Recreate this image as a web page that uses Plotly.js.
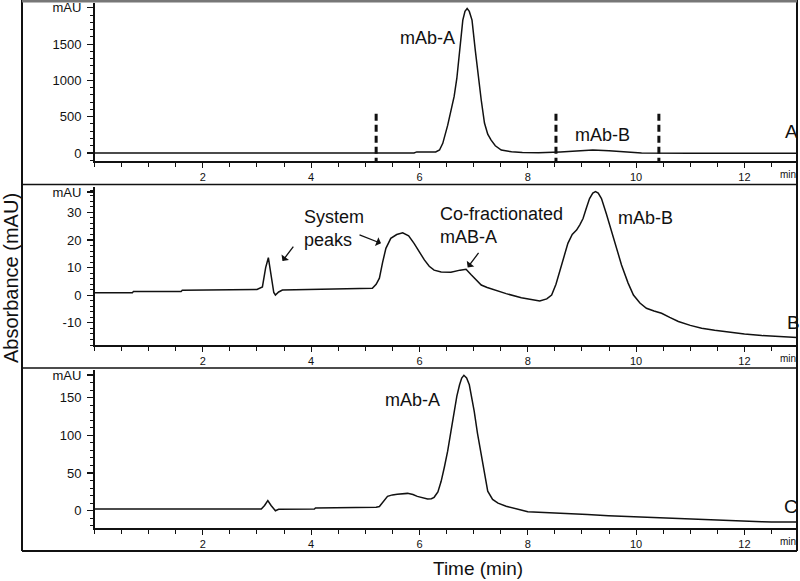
<!DOCTYPE html>
<html>
<head>
<meta charset="utf-8">
<script src="https://cdn.plot.ly/plotly-3.0.1.min.js"></script>
<style>body{margin:0;background:#fff}</style>
</head>
<body>
<div id="chart" style="width:800px;height:581px"></div>
<script>
// panel A - whole sample
let timeA = [0, 5.9, 5.95, 6.3, 6.37, 6.43, 6.52, 6.58, 6.64, 6.69, 6.74, 6.8, 6.84, 6.88, 6.92, 6.97, 7.03, 7.09, 7.14, 7.2, 7.26, 7.32, 7.4, 7.51, 7.7, 7.9, 8.2, 8.6, 8.9, 9.2, 9.5, 9.8, 10.1, 11, 12.97];
let absA = [0, 0, 15, 15, 41, 133, 380, 560, 780, 1030, 1418, 1830, 1950, 1990, 1950, 1830, 1418, 1000, 730, 413, 260, 180, 100, 40, 18, 8, 5, 15, 30, 40, 30, 12, 0, -2, -3];

// panel B - fraction 1 (5.2 - 8.5 min)
let timeB = [0, 0.7, 0.72, 1.6, 1.62, 3.0, 3.1, 3.16, 3.21, 3.26, 3.31, 3.34, 3.4, 3.47, 4.0, 5.0, 5.13, 5.2, 5.26, 5.32, 5.38, 5.47, 5.58, 5.69, 5.8, 5.9, 6.0, 6.09, 6.18, 6.27, 6.4, 6.58, 6.75, 6.86, 6.95, 7.05, 7.14, 7.25, 7.39, 7.6, 7.88, 8.1, 8.22, 8.35, 8.44, 8.52, 8.59, 8.66, 8.74, 8.82, 8.9, 8.96, 9.02, 9.08, 9.14, 9.2, 9.25, 9.3, 9.36, 9.45, 9.55, 9.64, 9.73, 9.85, 9.95, 10.07, 10.19, 10.33, 10.47, 10.62, 10.78, 11.0, 11.21, 11.45, 11.71, 12.0, 12.32, 12.6, 12.97];
let absB = [0.9, 0.9, 1.4, 1.4, 1.8, 2.1, 3, 10, 13.6, 8, 1, 0.1, 1.2, 1.9, 2.1, 2.3, 2.5, 4, 6.2, 12, 17, 20.6, 22, 22.6, 21.5, 18.8, 15.5, 12.8, 10.5, 9.1, 8.4, 8.3, 9.1, 9.4, 7.5, 5.3, 3.7, 2.8, 1.9, 0.6, -0.9, -1.8, -2.1, -1.3, 0.1, 4, 8.5, 13, 18.8, 22, 23.6, 25.5, 27.8, 31.5, 35, 37, 37.5, 37, 35, 29.5, 23, 17, 11, 4.5, 0.1, -2.8, -4.7, -5.7, -6.5, -8, -9.5, -10.9, -11.9, -12.7, -13.4, -14, -14.6, -15, -15.3];

// panel C - fraction 2
let timeC = [0, 3.08, 3.14, 3.2, 3.26, 3.34, 3.4, 4.06, 4.08, 4.65, 4.67, 5.2, 5.26, 5.33, 5.41, 5.5, 5.59, 5.78, 5.88, 5.96, 6.05, 6.15, 6.22, 6.27, 6.34, 6.4, 6.46, 6.52, 6.58, 6.64, 6.69, 6.74, 6.78, 6.82, 6.87, 6.92, 6.96, 7.01, 7.07, 7.14, 7.2, 7.26, 7.35, 7.45, 7.6, 7.8, 8.0, 8.4, 8.74, 9.1, 9.49, 9.9, 10.29, 10.65, 11.03, 11.46, 11.9, 12.32, 12.5, 12.97];
let absC = [2.3, 2.3, 7, 13.3, 7, 0, 2, 2.2, 3.6, 3.8, 4.5, 4.6, 5.5, 12, 19, 21, 22, 23, 21.5, 19, 17, 15.5, 16, 17.8, 25, 39, 58, 79, 105, 132, 152, 167, 176, 179.6, 176, 167, 152, 132, 103, 74, 48, 26, 15, 10, 6, 2, -1.3, -2.6, -3.5, -5, -6.6, -7.8, -8.8, -10, -11, -12.8, -13.8, -14.6, -14.8, -15];

// fraction cut points (min)
let fractionCuts = [5.2, 8.52, 10.42];
let xTickVals = [2, 4, 6, 8, 10, 12];

const W = 800, H = 581;
const px = v => v / W;          // pixel -> paper x
const py = v => 1 - v / H;      // pixel -> paper y
const font = "Liberation Sans, Arial, sans-serif";
const ink = "#111";

function xAxis(anchor) {
    return {
        domain: [px(94.5), px(797)], range: [0, 12.97], anchor: anchor,
        showline: true, linecolor: ink, linewidth: 1.5, mirror: false,
        showgrid: false, zeroline: false,
        ticks: "outside", ticklen: 5, tickwidth: 1.2, tickcolor: ink,
        tickmode: "array", tickvals: xTickVals,
        tickfont: { family: font, size: 11, color: ink },
        minor: { dtick: 0.5, tick0: 0, ticks: "outside", ticklen: 4, tickwidth: 1, tickcolor: ink },
        fixedrange: true, automargin: false
    };
}

function yAxis(anchor, dom, range, vals, texts, minorStep) {
    return {
        domain: dom, range: range, anchor: anchor,
        showline: true, linecolor: ink, linewidth: 1.5,
        showgrid: false, zeroline: false,
        ticks: "outside", ticklen: 6, tickwidth: 1.2, tickcolor: ink,
        tickmode: "array", tickvals: vals, ticktext: texts,
        ticklabelstandoff: 3,
        tickfont: { family: font, size: 13, color: ink },
        minor: { dtick: minorStep, ticks: "outside", ticklen: 3, tickwidth: 1, tickcolor: ink },
        fixedrange: true, automargin: false
    };
}

let line = { color: ink, width: 1.5 };
let data = [
    { x: timeA, y: absA, xaxis: "x", yaxis: "y", type: "scatter", mode: "lines", line: line },
    { x: timeB, y: absB, xaxis: "x2", yaxis: "y2", type: "scatter", mode: "lines", line: line },
    { x: timeC, y: absC, xaxis: "x3", yaxis: "y3", type: "scatter", mode: "lines", line: line }
];

// outer frame and panel separators
let shapes = [
    { type: "line", xref: "paper", yref: "paper", x0: px(22), x1: px(22), y0: py(551), y1: 1, line: { color: ink, width: 2 } },
    { type: "line", xref: "paper", yref: "paper", x0: px(797), x1: px(797), y0: py(551), y1: 1, line: { color: ink, width: 2 } },
    { type: "line", xref: "paper", yref: "paper", x0: px(22), x1: px(797), y0: py(1), y1: py(1), line: { color: "#777", width: 3 } },
    { type: "line", xref: "paper", yref: "paper", x0: px(22), x1: px(797), y0: py(184.5), y1: py(184.5), line: { color: ink, width: 1.5 } },
    { type: "line", xref: "paper", yref: "paper", x0: px(22), x1: px(797), y0: py(368), y1: py(368), line: { color: ink, width: 1.5 } },
    { type: "line", xref: "paper", yref: "paper", x0: px(22), x1: px(797), y0: py(551), y1: py(551), line: { color: ink, width: 2 } }
];
fractionCuts.forEach(c => shapes.push({
    type: "line", xref: "x", yref: "y", x0: c, x1: c, y0: -160, y1: 550,
    line: { color: ink, width: 3, dash: "7px,4px" }
}));

const txt = (size) => ({ family: font, size: size, color: ink });
// plain text label, centred on its point
const label = (xref, yref, x, y, text, size, extra) => Object.assign({
    xref: xref, yref: yref, x: x, y: y, text: text, showarrow: false,
    xanchor: "center", yanchor: "middle", font: txt(size)
}, extra || {});
const arrow = (x, y, ax, ay) => ({
    xref: "x2", yref: "y2", x: x, y: y, ax: ax, ay: ay, text: "", showarrow: true,
    arrowhead: 1, arrowsize: 1.2, arrowwidth: 1.3, arrowcolor: ink, standoff: 0
});

let annotations = [
    label("x", "y", 6.14, 1584, "mAb-A", 18),
    label("x", "y", 9.38, 248, "mAb-B", 18),
    label("x", "y", 12.86, 303, "A", 19),

    label("x2", "y2", 3.84, 24.2, "System<br>peaks", 18, { xanchor: "left", align: "left" }),
    label("x2", "y2", 6.34, 25.4, "Co-fractionated<br>mAB-A", 18, { xanchor: "left", align: "left" }),
    label("x2", "y2", 10.18, 28, "mAb-B", 18),
    label("x2", "y2", 12.9, -10, "B", 19),
    arrow(3.47, 12.4, 12, -16),
    arrow(5.29, 18.8, -23, -9),
    arrow(6.89, 10.1, 12, -16),

    label("x3", "y3", 5.88, 146.8, "mAb-A", 18),
    label("x3", "y3", 12.86, 6.2, "C", 19),

    // axis unit labels and titles
    label("paper", "paper", px(788), py(175), "min", 10),
    label("paper", "paper", px(788), py(358), "min", 10),
    label("paper", "paper", px(788), py(541), "min", 10),
    label("paper", "paper", px(478), py(568), "Time (min)", 19),
    label("paper", "paper", px(11), py(278), "Absorbance (mAU)", 20, { textangle: -90 })
];

let layout = {
    width: W, height: H,
    margin: { l: 0, r: 0, t: 0, b: 0 },
    paper_bgcolor: "#fff", plot_bgcolor: "rgba(0,0,0,0)",
    showlegend: false,
    font: { family: font, color: ink },
    xaxis: xAxis("y"),
    xaxis2: xAxis("y2"),
    xaxis3: xAxis("y3"),
    yaxis: yAxis("x", [py(161), py(3)], [-110, 2066], [0, 500, 1000, 1500, 2000], ["0", "500", "1000", "1500", "mAU"], 100),
    yaxis2: yAxis("x2", [py(345), py(187)], [-18, 39.2], [-10, 0, 10, 20, 30, 37.4], ["-10", "0", "10", "20", "30", "mAU"], 2),
    yaxis3: yAxis("x3", [py(528.3), py(370)], [-23.3, 186.6], [0, 50, 100, 150, 180], ["0", "50", "100", "150", "mAU"], 10),
    shapes: shapes,
    annotations: annotations
};

Plotly.newPlot("chart", data, layout, { displayModeBar: false, staticPlot: true });
</script>
</body>
</html>
